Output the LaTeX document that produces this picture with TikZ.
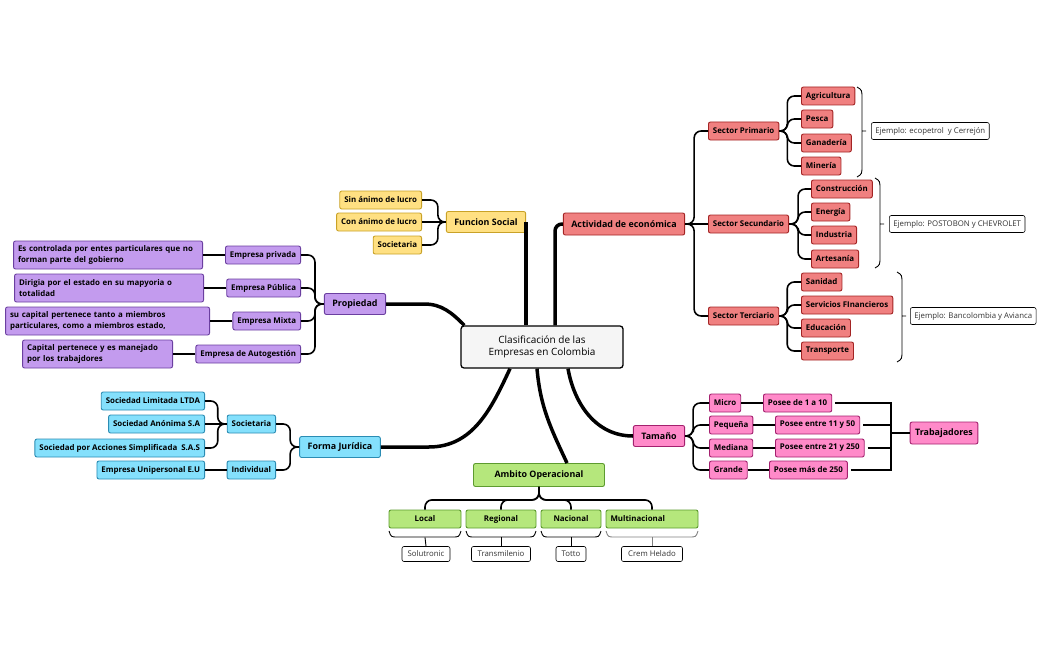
\documentclass[tikz,border=0pt]{standalone}
\usepackage{fontspec}
\setmainfont{Open Sans}
\usetikzlibrary{calc}
\definecolor{amaF}{HTML}{FFE082}
\definecolor{amaD}{HTML}{C9A227}
\definecolor{rojoF}{HTML}{F08080}
\definecolor{rojoD}{HTML}{A32424}
\definecolor{morF}{HTML}{C39BEE}
\definecolor{morD}{HTML}{6B3FA0}
\definecolor{celF}{HTML}{84E0FC}
\definecolor{celD}{HTML}{2B8CB3}
\definecolor{verF}{HTML}{B5E77C}
\definecolor{verD}{HTML}{5D9B2F}
\definecolor{rosaF}{HTML}{FF8AC9}
\definecolor{rosaD}{HTML}{A3206E}
\definecolor{centroF}{HTML}{F5F5F5}

\begin{document}
\begin{tikzpicture}[x=1pt,y=-1pt,
	caja/.style={draw,rounded corners=2pt,line width=0.9pt,inner xsep=4.5pt,inner ysep=0pt,minimum height=18pt,font=\bfseries\fontsize{7.9}{10.5}\selectfont},
	grande/.style={caja,inner xsep=8pt,minimum height=21pt,font=\bfseries\fontsize{8.9}{10}\selectfont},
	texto/.style={caja,align=left,minimum height=28pt},
	amarillo/.style={fill=amaF,draw=amaD},
	rojo/.style={fill=rojoF,draw=rojoD},
	morado/.style={fill=morF,draw=morD},
	celeste/.style={fill=celF,draw=celD},
	verde/.style={fill=verF,draw=verD},
	rosa/.style={fill=rosaF,draw=rosaD},
	ejemplo/.style={draw,rounded corners=2pt,line width=0.6pt,fill=white,text=black!80,inner xsep=4pt,inner ysep=0pt,minimum height=15pt,font=\fontsize{7.8}{9}\selectfont},
	tronco/.style={line width=3.5pt},
	rama/.style={line width=1.6pt,rounded corners=7pt},
	fino/.style={line width=1.1pt},
	llave/.style={line width=0.9pt}]
	\useasboundingbox (0,0) rectangle (1051,650);

	% centro
	\node (C) at (542,347) [draw,line width=1.3pt,rounded corners=3pt,fill=centroF,minimum width=162pt,minimum height=42pt,align=center,font=\fontsize{10}{12.5}\selectfont] {Clasificación de las\\Empresas en Colombia};

	% funcion social
	\node (F) at (486,222) [grande,amarillo] {Funcion Social};
	\node (F1) at (422,200) [caja,amarillo,anchor=east] {Sin ánimo de lucro};
	\node (F2) at (422,222) [caja,amarillo,anchor=east] {Con ánimo de lucro};
	\node (F3) at (422,245) [caja,amarillo,anchor=east] {Societaria};

	% propiedad
	\node (P) at (355,304) [grande,morado] {Propiedad};
	\node (P1) at (301,255) [caja,morado,anchor=east] {Empresa privada};
	\node (P2) at (301,288) [caja,morado,anchor=east] {Empresa Pública};
	\node (P3) at (301,321) [caja,morado,anchor=east] {Empresa Mixta};
	\node (P4) at (301,354) [caja,morado,anchor=east] {Empresa de Autogestión};
	\node (D1) at (203,255) [texto,morado,anchor=east,text width=180pt] {Es controlada por entes particulares que no\\forman parte del gobierno};
	\node (D2) at (204,288) [texto,morado,anchor=east,text width=180pt] {Dirigia por el estado en su mapyoria o\\totalidad};
	\node (D3) at (210,321) [texto,morado,anchor=east,text width=195pt] {su capital pertenece tanto a miembros\\particulares, como a miembros estado,};
	\node (D4) at (173,354) [texto,morado,anchor=east,text width=141pt] {Capital pertenece y es manejado\\por los trabajdores};

	% forma juridica
	\node (FJ) at (340,447) [grande,celeste] {Forma Jurídica};
	\node (S1) at (276,424) [caja,celeste,anchor=east,minimum width=47pt] {Societaria};
	\node (S2) at (276,470) [caja,celeste,anchor=east,minimum width=47pt] {Individual};
	\node (S1a) at (205,401) [caja,celeste,anchor=east] {Sociedad Limitada LTDA};
	\node (S1b) at (205,424) [caja,celeste,anchor=east] {Sociedad Anónima S.A};
	\node (S1c) at (205,448) [caja,celeste,anchor=east] {Sociedad por Acciones Simplificada~ S.A.S};
	\node (S2a) at (205,470) [caja,celeste,anchor=east] {Empresa Unipersonal E.U};

	% ambito operacional
	\node (AO) at (539,475) [grande,verde,minimum width=131pt,minimum height=23pt] {Ambito Operacional};
	\node (L1) at (425,519) [caja,verde,minimum width=72pt] {Local};
	\node (L2) at (501,519) [caja,verde,minimum width=70pt] {Regional};
	\node (L3) at (571,519) [caja,verde,minimum width=60pt] {Nacional};
	\node (L4) at (652,519) [caja,verde,text width=83pt,align=left] {Multinacional};
	\node (Ej1) at (426,554) [ejemplo,minimum width=48pt] {Solutronic};
	\node (Ej2) at (501,554) [ejemplo,minimum width=59pt] {Transmilenio};
	\node (Ej3) at (571,554) [ejemplo,minimum width=30pt] {Totto};
	\node (Ej4) at (652,554) [ejemplo,minimum width=61pt] {Crem Helado};

	% actividad economica
	\node (A) at (624,224) [grande,rojo,minimum height=22pt] {Actividad de económica};
	\node (A1) at (708,131) [caja,rojo,anchor=west] {Sector Primario};
	\node (A2) at (708,224) [caja,rojo,anchor=west] {Sector Secundario};
	\node (A3) at (708,316) [caja,rojo,anchor=west] {Sector Terciario};
	\node (A1a) at (801,96) [caja,rojo,anchor=west] {Agricultura};
	\node (A1b) at (801,119) [caja,rojo,anchor=west] {Pesca};
	\node (A1c) at (801,143) [caja,rojo,anchor=west] {Ganadería};
	\node (A1d) at (801,166) [caja,rojo,anchor=west] {Minería};
	\node (A2a) at (811,189) [caja,rojo,anchor=west] {Construcción};
	\node (A2b) at (811,212) [caja,rojo,anchor=west] {Energía};
	\node (A2c) at (811,235) [caja,rojo,anchor=west] {Industria};
	\node (A2d) at (811,259) [caja,rojo,anchor=west] {Artesanía};
	\node (A3a) at (801,282) [caja,rojo,anchor=west] {Sanidad};
	\node (A3b) at (801,305) [caja,rojo,anchor=west] {Servicios FInancieros};
	\node (A3c) at (801,328) [caja,rojo,anchor=west] {Educación};
	\node (A3d) at (801,351) [caja,rojo,anchor=west] {Transporte};
	\node (E1) at (871,131) [ejemplo,anchor=west,minimum height=17pt] {Ejemplo: ecopetrol~ y Cerrejón};
	\node (E2) at (889,224) [ejemplo,anchor=west,minimum height=17pt] {Ejemplo: POSTOBON y CHEVROLET};
	\node (E3) at (910,316) [ejemplo,anchor=west,minimum height=17pt] {Ejemplo: Bancolombia y Avianca};

	% tamano
	\node (T) at (659,436) [grande,rosa] {Tamaño};
	\node (T1) at (709,403) [caja,rosa,anchor=west] {Micro};
	\node (T2) at (709,425) [caja,rosa,anchor=west] {Pequeña};
	\node (T3) at (709,448) [caja,rosa,anchor=west] {Mediana};
	\node (T4) at (709,470) [caja,rosa,anchor=west] {Grande};
	\node (N1) at (763,403) [caja,rosa,anchor=west] {Posee de 1 a 10};
	\node (N2) at (775,425) [caja,rosa,anchor=west] {Posee entre 11 y 50};
	\node (N3) at (775,448) [caja,rosa,anchor=west] {Posee entre 21 y 250};
	\node (N4) at (769,470) [caja,rosa,anchor=west] {Posee más de 250};
	\node (W) at (944,433) [grande,rosa,inner xsep=5pt,minimum height=22pt] {Trabajadores};
	\coordinate (J) at (891,433);

	% ramas principales
	\draw[tronco] (F.east) -- (F.east |- C.north);
	\draw[tronco,rounded corners=7pt] (A.west) -| ($(C.north)+(13,0)$);
	\draw[tronco] (P.east) -- ++(38,0) to[out=0,in=135] ($(C.north west)+(4,0)$);
	\draw[tronco] (FJ.east) -- ++(48,0) to[out=0,in=-115] ($(C.south)+(-32,0)$);
	\draw[tronco] ($(C.south)+(-5,0)$) to[out=-85,in=115] ($(AO.north)+(28,0)$);
	\draw[tronco] ($(C.south)+(26,0)$) to[out=-80,in=180] (T.west);

	% ramas secundarias
	\draw[rama] (F.west) -- ++(-8,0) |- (F1.east);
	\draw[rama] (F.west) -- (F2.east);
	\draw[rama] (F.west) -- ++(-8,0) |- (F3.east);
	\draw[rama] (P.west) -- ++(-9,0) |- (P1.east);
	\draw[rama] (P.west) -- ++(-9,0) |- (P2.east);
	\draw[rama] (P.west) -- ++(-9,0) |- (P3.east);
	\draw[rama] (P.west) -- ++(-9,0) |- (P4.east);
	\draw[rama] (P1.west) -- (D1.east);
	\draw[rama] (P2.west) -- (D2.east);
	\draw[rama] (P3.west) -- (D3.east);
	\draw[rama] (P4.west) -- (D4.east);
	\draw[rama] (FJ.west) -- ++(-9,0) |- (S1.east);
	\draw[rama] (FJ.west) -- ++(-9,0) |- (S2.east);
	\draw[rama] (S1.west) -- ++(-9,0) |- (S1a.east);
	\draw[rama] (S1.west) -- (S1b.east);
	\draw[rama] (S1.west) -- ++(-9,0) |- (S1c.east);
	\draw[rama] (S2.west) -- (S2a.east);
	\draw[rama] (AO.south) -- ++(0,13) -| (L1.north);
	\draw[rama] (AO.south) -- ++(0,13) -| (L2.north);
	\draw[rama] (AO.south) -- ++(0,13) -| (L3.north);
	\draw[rama] (AO.south) -- ++(0,13) -| (L4.north);
	\draw[rama] (A.east) -- ++(9,0) |- (A1.west);
	\draw[rama] (A.east) -- (A2.west);
	\draw[rama] (A.east) -- ++(9,0) |- (A3.west);
	\draw[rama] (A1.east) -- ++(8,0) |- (A1a.west);
	\draw[rama] (A1.east) -- ++(8,0) |- (A1b.west);
	\draw[rama] (A1.east) -- ++(8,0) |- (A1c.west);
	\draw[rama] (A1.east) -- ++(8,0) |- (A1d.west);
	\draw[rama] (A2.east) -- ++(9,0) |- (A2a.west);
	\draw[rama] (A2.east) -- ++(9,0) |- (A2b.west);
	\draw[rama] (A2.east) -- ++(9,0) |- (A2c.west);
	\draw[rama] (A2.east) -- ++(9,0) |- (A2d.west);
	\draw[rama] (A3.east) -- ++(8,0) |- (A3a.west);
	\draw[rama] (A3.east) -- ++(8,0) |- (A3b.west);
	\draw[rama] (A3.east) -- ++(8,0) |- (A3c.west);
	\draw[rama] (A3.east) -- ++(8,0) |- (A3d.west);
	\draw[rama] (T.east) -- ++(8,0) |- (T1.west);
	\draw[rama] (T.east) -- ++(8,0) |- (T2.west);
	\draw[rama] (T.east) -- ++(8,0) |- (T3.west);
	\draw[rama] (T.east) -- ++(8,0) |- (T4.west);
	\draw[rama] (T1.east) -- (N1.west);
	\draw[rama] (T2.east) -- (N2.west);
	\draw[rama] (T3.east) -- (N3.west);
	\draw[rama] (T4.east) -- (N4.west);

	% trabajadores
	\draw[fino] ([xshift=3pt]N1.east) -| (J);
	\draw[fino] ([xshift=3pt]N2.east) -| (J);
	\draw[fino] ([xshift=3pt]N3.east) -| (J);
	\draw[fino] ([xshift=3pt]N4.east) -| (J);
	\draw[fino] (J) -- (W.west);

	% llaves de ejemplos
	\foreach \x/\t/\b/\m in {857/87/177/131, 875/178/268/224, 897/272/362/316}
		\draw[llave] (\x,\t) .. controls (\x+5,\t+3) .. (\x+5,\t+12) -- (\x+5,\b-12) .. controls (\x+5,\b-3) .. (\x,\b)
			(\x+5,\m) -- (\x+9,\m);
	\foreach \a/\b/\c in {389/461/black, 466/536/black, 541/601/black, 606/698/gray}
		\draw[llave,\c] (\a,531) .. controls (\a+2,537) .. (\a+9,537) -- (\b-9,537) .. controls (\b-2,537) .. (\b,531);
	\draw[llave] ([yshift=-9pt]L1.south) -- (Ej1.north);
	\draw[llave] ([yshift=-9pt]L2.south) -- (Ej2.north);
	\draw[llave] ([yshift=-9pt]L3.south) -- (Ej3.north);
	\draw[llave,gray] ([yshift=-9pt]L4.south) -- (Ej4.north);
\end{tikzpicture}
\end{document}
